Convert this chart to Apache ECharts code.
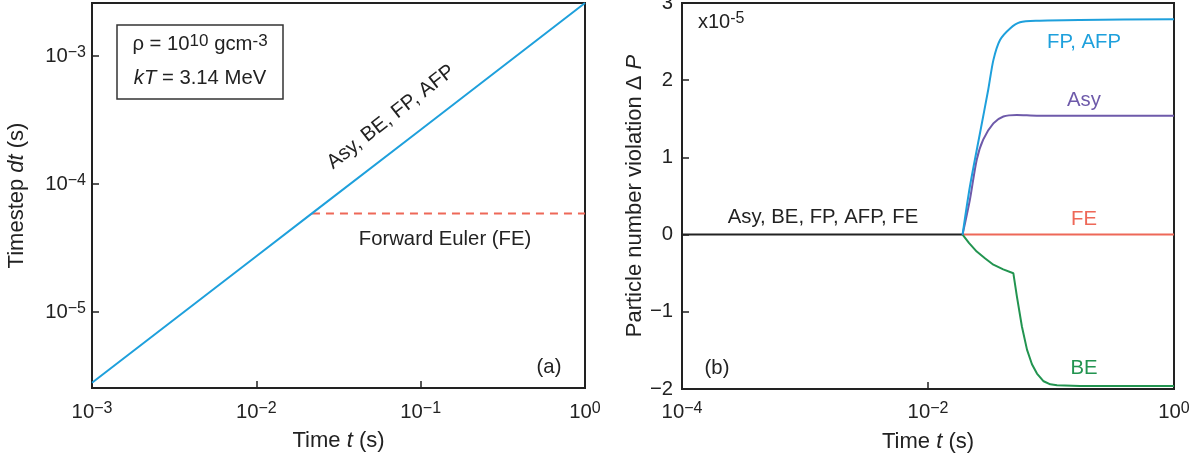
<!DOCTYPE html>
<html><head><meta charset="utf-8">
<script src="https://cdn.jsdelivr.net/npm/echarts@6/dist/echarts.min.js"></script>
<style>html,body{margin:0;padding:0;background:#fff}#c{width:1204px;height:460px}</style>
</head><body><div id="c"></div>
<script>
// ---------- Panel (a): timestep vs time ----------
const timeA      = [0.001, 0.01, 0.0218, 0.1, 1];
const dtImplicit = [2.8e-6, 2.73e-5, 5.9e-5, 2.66e-4, 2.6e-3];   // Asy, BE, FP, AFP
const timeFE_a   = [0.0218, 1];
const dtFE       = [5.9e-5, 5.9e-5];                             // Forward Euler

// ---------- Panel (b): particle number violation (x1e-5) ----------
const timeZero = [1e-4, 0.0191];
const dpZero   = [0, 0];
const timeFE_b = [0.0191, 1];
const dpFE     = [0, 0];
const timeFP   = [0.0191, 0.0219, 0.0265, 0.0309, 0.0340, 0.0385, 0.0465, 0.056, 0.0766, 0.172, 1];
const dpFP     = [0, 0.62, 1.32, 1.88, 2.26, 2.52, 2.67, 2.75, 2.77, 2.78, 2.79];
const timeAsy  = [0.0191, 0.0219, 0.0249, 0.0281, 0.0340, 0.0410, 0.0527, 0.0766, 1];
const dpAsy    = [0, 0.45, 0.97, 1.23, 1.44, 1.53, 1.55, 1.54, 1.54];
const timeBE   = [0.0191, 0.0216, 0.0249, 0.0292, 0.0340, 0.0409, 0.0494, 0.0528, 0.0580, 0.0638,
                  0.0700, 0.0769, 0.0871, 0.0987, 0.112, 0.172, 1];
const dpBE     = [0, -0.11, -0.22, -0.31, -0.39, -0.45, -0.50, -0.80, -1.19, -1.49,
                  -1.68, -1.80, -1.90, -1.94, -1.95, -1.96, -1.96];

const FF = 'Liberation Sans, Arial, Helvetica, sans-serif';
const INK = '#222';
const C_BLUE = '#1ea0dc', C_PURPLE = '#6e5aaa', C_RED = '#ee6858', C_GREEN = '#229450';
const FS = 20.3;

const zip = (xs, ys) => xs.map((x, i) => [x, ys[i]]);
const sup = v => (v < 0 ? '\u2212' + (-v) : '' + v);

function logLabel(v) {
  const e = Math.log10(v), r = Math.round(e);
  if (Math.abs(e - r) > 1e-6) return '';
  return '{b|10}{s|' + sup(r) + '}';
}
const logRich = {
  b: {fontSize: FS, fontFamily: FF, color: INK, lineHeight: 23},
  s: {fontSize: 16, fontFamily: FF, color: INK, verticalAlign: 'top', lineHeight: 16}
};
const nameStyle = {
  fontSize: 22, fontFamily: FF, color: INK,
  rich: {
    n: {fontSize: 22, fontFamily: FF, color: INK},
    i: {fontSize: 22, fontFamily: FF, color: INK, fontStyle: 'italic'}
  }
};
const axLine = {show: true, onZero: false, lineStyle: {color: INK, width: 2}};
const axTick = {show: true, inside: true, length: 7, lineStyle: {color: INK, width: 1.5}};

const chart = echarts.init(document.getElementById('c'), null, {renderer: 'canvas'});
chart.setOption({
  animation: false,
  backgroundColor: '#fff',
  grid: [
    {left: 92, top: 3, width: 493, height: 385, show: true, borderColor: INK, borderWidth: 2,
     containLabel: false, outerBoundsMode: 'none'},
    {left: 682, top: 3, width: 492, height: 386, show: true, borderColor: INK, borderWidth: 2,
     containLabel: false, outerBoundsMode: 'none'}
  ],
  xAxis: [
    {type: 'log', logBase: 10, gridIndex: 0, min: 0.001, max: 1, splitNumber: 3,
     axisLine: axLine, axisTick: axTick, splitLine: {show: false}, minorTick: {show: false},
     axisLabel: {formatter: logLabel, rich: logRich, margin: 13, showMinLabel: true, showMaxLabel: true},
     name: '{n|Time }{i|t}{n| (s)}', nameLocation: 'middle', nameGap: 42, nameTextStyle: nameStyle},
    {type: 'log', logBase: 10, gridIndex: 1, min: 1e-4, max: 1, interval: 2,
     axisLine: axLine, axisTick: axTick, splitLine: {show: false}, minorTick: {show: false},
     axisLabel: {formatter: logLabel, rich: logRich, margin: 12, showMinLabel: true, showMaxLabel: true},
     name: '{n|Time }{i|t}{n| (s)}', nameLocation: 'middle', nameGap: 42, nameTextStyle: nameStyle}
  ],
  yAxis: [
    {type: 'log', logBase: 10, gridIndex: 0, min: 2.55e-6, max: 2.6e-3, splitNumber: 3,
     axisLine: axLine, axisTick: axTick, splitLine: {show: false}, minorTick: {show: false},
     axisLabel: {formatter: logLabel, rich: logRich, margin: 6, showMinLabel: true, showMaxLabel: true},
     name: '{n|Timestep }{i|dt}{n| (s)}', nameLocation: 'middle', nameGap: 64, nameTextStyle: nameStyle},
    {type: 'value', gridIndex: 1, min: -2, max: 3, interval: 1,
     axisLine: axLine, axisTick: axTick, splitLine: {show: false},
     axisLabel: {formatter: v => sup(v), fontSize: FS, fontFamily: FF, color: INK, margin: 9},
     name: '{n|Particle number violation \u0394 }{i|P}', nameLocation: 'middle', nameGap: 36, nameTextStyle: nameStyle}
  ],
  series: [
    {type: 'line', xAxisIndex: 0, yAxisIndex: 0, data: zip(timeFE_a, dtFE), showSymbol: false,
     lineStyle: {color: C_RED, width: 2, type: [8, 6]}, z: 2},
    {type: 'line', xAxisIndex: 0, yAxisIndex: 0, data: zip(timeA, dtImplicit), showSymbol: false,
     lineStyle: {color: C_BLUE, width: 2}, z: 3},

    {type: 'line', xAxisIndex: 1, yAxisIndex: 1, data: zip(timeZero, dpZero), showSymbol: false,
     lineStyle: {color: INK, width: 2}, z: 2},
    {type: 'line', xAxisIndex: 1, yAxisIndex: 1, data: zip(timeFE_b, dpFE), showSymbol: false,
     lineStyle: {color: C_RED, width: 2}, z: 2},
    {type: 'line', xAxisIndex: 1, yAxisIndex: 1, data: zip(timeBE, dpBE), showSymbol: false,
     lineStyle: {color: C_GREEN, width: 2}, z: 3},
    {type: 'line', xAxisIndex: 1, yAxisIndex: 1, data: zip(timeAsy, dpAsy), showSymbol: false, smooth: 0.25,
     lineStyle: {color: C_PURPLE, width: 2}, z: 4},
    {type: 'line', xAxisIndex: 1, yAxisIndex: 1, data: zip(timeFP, dpFP), showSymbol: false, smooth: 0.25,
     lineStyle: {color: C_BLUE, width: 2}, z: 5}
  ],
  graphic: [
    {type: 'rect', shape: {x: 117, y: 25, width: 166, height: 74}, style: {fill: 'none', stroke: '#333', lineWidth: 1.5}},
    {type: 'text', x: 200, y: 44, style: {
      text: '{n|\u03c1 = 10}{s|10}{n| gcm}{s|-3}', align: 'center', verticalAlign: 'middle',
      rich: {n: {fontSize: FS, fontFamily: FF, fill: INK, lineHeight: 23},
             s: {fontSize: 17, fontFamily: FF, fill: INK, verticalAlign: 'top', lineHeight: 17}}}},
    {type: 'text', x: 200, y: 78, style: {
      text: '{i|kT}{n| = 3.14 MeV}', align: 'center', verticalAlign: 'middle',
      rich: {n: {fontSize: FS, fontFamily: FF, fill: INK}, i: {fontSize: FS, fontFamily: FF, fill: INK, fontStyle: 'italic'}}}},
    {type: 'text', x: 391, y: 117, rotation: 38 * Math.PI / 180, style: {
      text: 'Asy, BE, FP, AFP', align: 'center', verticalAlign: 'middle', font: FS + 'px ' + FF, fill: INK}},
    {type: 'text', x: 445, y: 239, style: {
      text: 'Forward Euler (FE)', align: 'center', verticalAlign: 'middle', font: FS + 'px ' + FF, fill: INK}},
    {type: 'text', x: 549, y: 367, style: {
      text: '(a)', align: 'center', verticalAlign: 'middle', font: FS + 'px ' + FF, fill: INK}},

    {type: 'text', x: 698, y: 22, style: {
      text: '{n|x10}{s|-5}', align: 'left', verticalAlign: 'middle',
      rich: {n: {fontSize: 20, fontFamily: FF, fill: INK, lineHeight: 23},
             s: {fontSize: 16, fontFamily: FF, fill: INK, verticalAlign: 'top', lineHeight: 16}}}},
    {type: 'text', x: 823, y: 217, style: {
      text: 'Asy, BE, FP, AFP, FE', align: 'center', verticalAlign: 'middle', font: FS + 'px ' + FF, fill: INK}},
    {type: 'text', x: 1084, y: 42, style: {
      text: 'FP, AFP', align: 'center', verticalAlign: 'middle', font: FS + 'px ' + FF, fill: C_BLUE}},
    {type: 'text', x: 1084, y: 100, style: {
      text: 'Asy', align: 'center', verticalAlign: 'middle', font: FS + 'px ' + FF, fill: C_PURPLE}},
    {type: 'text', x: 1084, y: 219, style: {
      text: 'FE', align: 'center', verticalAlign: 'middle', font: FS + 'px ' + FF, fill: C_RED}},
    {type: 'text', x: 1084, y: 368, style: {
      text: 'BE', align: 'center', verticalAlign: 'middle', font: FS + 'px ' + FF, fill: C_GREEN}},
    {type: 'text', x: 717, y: 368, style: {
      text: '(b)', align: 'center', verticalAlign: 'middle', font: FS + 'px ' + FF, fill: INK}}
  ]
});
</script>
</body></html>
